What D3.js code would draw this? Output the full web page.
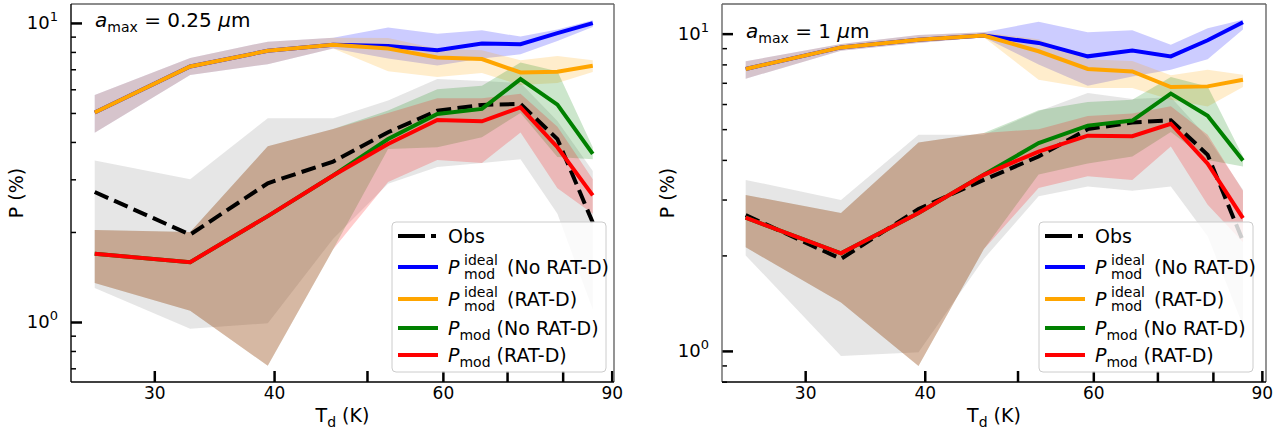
<!DOCTYPE html>
<html>
<head>
<meta charset="utf-8">
<script src="https://cdn.jsdelivr.net/npm/d3@7"></script>
<style>
  body { margin: 0; background: #fff; }
  svg text { font-family: "DejaVu Sans", sans-serif; fill: #000; }
</style>
</head>
<body>
<div id="chart"></div>
<script>
// dust temperature of each bin (K), shared by both panels
var tdust = [26.0, 32.7, 39.4, 46.1, 52.6, 59.2, 65.9, 72.3, 79.0, 86.0];

// ---- left panel, a_max = 0.25 um ----
var obsL      = [2.72, 1.96, 2.91, 3.44, 4.31, 5.09, 5.32, 5.36, 4.09, 2.15];
var obsLoL    = [1.30, 0.95, 0.99, 1.90, 2.90, 3.30, 3.40, 3.50, 2.30, 1.10];
var obsHiL    = [3.47, 3.00, 4.80, 4.80, 5.50, 6.50, 6.40, 6.30, 4.70, 3.20];
var idealNoL   = [5.02, 7.15, 8.07, 8.45, 8.38, 8.11, 8.53, 8.49, 9.24, 9.98];
var idealNoLoL = [4.29, 6.70, 7.28, 8.21, 7.60, 7.20, 7.60, 7.86, 8.71, 9.70];
var idealNoHiL = [5.74, 7.63, 8.66, 8.93, 9.65, 9.21, 9.45, 9.00, 9.50, 10.2];
var idealRL    = [5.02, 7.15, 8.07, 8.45, 8.21, 7.66, 7.57, 6.83, 6.87, 7.19];
var idealRLoL  = [4.29, 6.70, 7.28, 8.21, 6.90, 6.60, 6.80, 6.20, 6.30, 6.85];
var idealRHiL  = [5.74, 7.63, 8.66, 8.93, 8.90, 8.20, 8.10, 7.50, 7.76, 7.50];
var modNoL    = [1.69, 1.585, 2.26, 3.09, 4.09, 4.96, 5.16, 6.49, 5.33, 3.65];
var modNoLoL  = [1.35, 1.09, 0.714, 1.75, 3.79, 3.84, 4.15, 5.00, 3.56, 3.50];
var modNoHiL  = [2.03, 2.00, 3.87, 4.42, 5.10, 6.00, 6.17, 7.38, 6.90, 3.84];
var modRL     = [1.69, 1.585, 2.26, 3.09, 3.94, 4.74, 4.69, 5.22, 3.84, 2.65];
var modRLoL   = [1.35, 1.09, 0.714, 1.75, 2.94, 3.48, 3.40, 4.30, 2.80, 2.30];
var modRHiL   = [2.03, 2.00, 3.87, 4.42, 5.00, 5.60, 5.60, 5.80, 4.50, 3.00];

// ---- right panel, a_max = 1 um ----
var obsR      = [2.68, 1.95, 2.80, 3.46, 4.10, 5.00, 5.25, 5.33, 4.15, 2.22];
var obsLoR    = [2.00, 0.964, 0.99, 1.95, 3.07, 3.30, 3.20, 3.30, 2.30, 1.20];
var obsHiR    = [3.46, 2.99, 4.80, 4.80, 5.69, 6.50, 6.22, 6.30, 4.70, 3.22];
var idealNoR   = [7.74, 9.05, 9.57, 9.86, 9.35, 8.48, 8.84, 8.48, 9.53, 10.86];
var idealNoLoR = [7.21, 8.84, 9.35, 9.75, 8.00, 6.85, 7.33, 7.70, 8.30, 10.30];
var idealNoHiR = [8.18, 9.28, 9.90, 10.1, 10.9, 10.1, 10.24, 9.23, 10.4, 11.07];
var idealRR    = [7.74, 9.05, 9.57, 9.86, 8.80, 7.74, 7.60, 6.79, 6.82, 7.16];
var idealRLoR  = [7.21, 8.84, 9.35, 9.75, 7.16, 6.74, 6.74, 6.19, 5.89, 6.79];
var idealRHiR  = [8.18, 9.28, 9.90, 10.1, 9.60, 8.30, 8.20, 7.40, 7.70, 7.42];
var modNoR    = [2.63, 2.03, 2.72, 3.59, 4.52, 5.13, 5.32, 6.47, 5.51, 3.98];
var modNoLoR  = [2.12, 1.42, 0.897, 2.09, 3.60, 3.90, 4.10, 4.90, 4.00, 3.81];
var modNoHiR  = [3.10, 2.72, 4.54, 4.86, 5.73, 6.09, 6.19, 7.30, 6.82, 4.10];
var modRR     = [2.63, 2.03, 2.72, 3.59, 4.25, 4.77, 4.75, 5.20, 3.89, 2.62];
var modRLoR   = [2.12, 1.42, 0.897, 2.09, 3.26, 3.55, 3.46, 4.41, 2.89, 2.20];
var modRHiR   = [3.10, 2.72, 4.54, 4.86, 5.00, 5.50, 5.60, 5.90, 4.80, 3.20];

var xTicks = [30, 40, 50, 60, 70, 80, 90];
var xLabelled = [30, 40, 60, 90];
var legendNames = ["Obs", "(No RAT-D)", "(RAT-D)", "(No RAT-D)", "(RAT-D)"];

var svg = d3.select("#chart").append("svg")
    .attr("width", 1283)
    .attr("height", 432);

function drawPanel(p) {
    var x = d3.scaleLog().domain(p.xdom).range([p.left, p.right]);
    var y = d3.scaleLog().domain(p.ydom).range([p.bottom, p.top]);
    var g = svg.append("g");

    g.append("clipPath").attr("id", p.id + "clip")
        .append("rect")
        .attr("x", p.left).attr("y", p.top)
        .attr("width", p.right - p.left).attr("height", p.bottom - p.top);

    var plot = g.append("g").attr("clip-path", "url(#" + p.id + "clip)");

    // shaded ranges
    var area = function (lo, hi) {
        return d3.area()
            .x(function (d, i) { return x(tdust[i]); })
            .y0(function (d, i) { return y(lo[i]); })
            .y1(function (d, i) { return y(hi[i]); })(tdust);
    };
    p.series.forEach(function (s) {
        plot.append("path")
            .attr("d", area(s.lo, s.hi))
            .attr("fill", s.color)
            .attr("fill-opacity", 0.2)
            .attr("stroke", "none");
    });

    // lines
    var line = d3.line()
        .x(function (d, i) { return x(tdust[i]); })
        .y(function (d) { return y(d); });
    p.series.forEach(function (s) {
        plot.append("path")
            .datum(s.vals)
            .attr("d", line)
            .attr("fill", "none")
            .attr("stroke", s.line)
            .attr("stroke-width", 4)
            .attr("stroke-linejoin", "miter")
            .attr("stroke-dasharray", s.dash ? "14.8,6.4" : null);
    });

    // axes, ticks pointing inward
    var xAxis = g.append("g")
        .attr("transform", "translate(0," + p.bottom + ")")
        .call(d3.axisBottom(x).tickValues(xTicks).tickSize(-11).tickPadding(5)
            .tickFormat(function (d) { return xLabelled.indexOf(d) >= 0 ? d : ""; }));
    xAxis.select(".domain").remove();
    xAxis.selectAll(".tick line").attr("stroke", "#000").attr("stroke-width", 2.5);
    xAxis.selectAll(".tick text").style("font-size", "17px");

    var minors = [];
    [0.1, 1].forEach(function (dec) {
        for (var k = 2; k <= 9; k++) {
            var v = k * dec;
            if (v > p.ydom[0] && v < p.ydom[1]) minors.push(v);
        }
    });
    var yMinor = g.append("g")
        .attr("transform", "translate(" + p.left + ",0)")
        .call(d3.axisLeft(y).tickValues(minors).tickSize(-5).tickFormat(""));
    yMinor.select(".domain").remove();
    yMinor.selectAll(".tick line").attr("stroke", "#000").attr("stroke-width", 1.5);

    var yMajor = g.append("g")
        .attr("transform", "translate(" + p.left + ",0)")
        .call(d3.axisLeft(y).tickValues([1, 10]).tickSize(-11).tickFormat(""));
    yMajor.select(".domain").remove();
    yMajor.selectAll(".tick line").attr("stroke", "#000").attr("stroke-width", 2.5);

    [1, 10].forEach(function (v) {
        var t = g.append("text")
            .attr("x", p.left - 13)
            .attr("y", y(v) + 6)
            .attr("text-anchor", "end")
            .style("font-size", "18px");
        t.append("tspan").text("10");
        t.append("tspan").attr("dy", -8).style("font-size", "13px").text(v == 1 ? "0" : "1");
    });

    // spines
    g.append("line").attr("x1", p.left).attr("x2", p.right).attr("y1", p.top).attr("y2", p.top)
        .attr("stroke", "#666").attr("stroke-width", 1.4);
    g.append("line").attr("x1", p.right).attr("x2", p.right).attr("y1", p.top).attr("y2", p.bottom)
        .attr("stroke", "#666").attr("stroke-width", 1.4);
    g.append("line").attr("x1", p.left).attr("x2", p.left).attr("y1", p.top).attr("y2", p.bottom)
        .attr("stroke", p.leftSpine).attr("stroke-width", 1.4);
    g.append("line").attr("x1", p.left).attr("x2", p.right).attr("y1", p.bottom).attr("y2", p.bottom)
        .attr("stroke", "#000").attr("stroke-width", 1.4);

    // axis labels
    var xl = g.append("text")
        .attr("x", (p.left + p.right) / 2)
        .attr("y", 422)
        .attr("text-anchor", "middle")
        .style("font-size", "19px");
    xl.append("tspan").text("T");
    xl.append("tspan").attr("dy", 5).style("font-size", "14px").text("d");
    xl.append("tspan").attr("dy", -5).text(" (K)");

    g.append("text")
        .attr("transform", "translate(" + (p.left - 48) + "," + ((p.top + p.bottom) / 2) + ") rotate(-90)")
        .attr("text-anchor", "middle")
        .style("font-size", "19px")
        .text("P (%)");

    // a_max annotation
    var an = g.append("text")
        .attr("x", p.left + 24)
        .attr("y", p.annY)
        .style("font-size", "20px");
    an.append("tspan").style("font-style", "italic").text("a");
    an.append("tspan").attr("dy", 5).style("font-size", "14px").text("max");
    an.append("tspan").attr("dy", -5).text(" = " + p.amax + " ");
    an.append("tspan").style("font-style", "italic").text("\u03bc");
    an.append("tspan").text("m");

    // legend
    var lg = g.append("g");
    lg.append("rect")
        .attr("x", p.legX).attr("y", 222)
        .attr("width", 214).attr("height", 150)
        .attr("rx", 4)
        .attr("fill", "#fff").attr("fill-opacity", 0.8)
        .attr("stroke", "#ccc").attr("stroke-width", 1);
    var rows = [236, 267, 299, 328, 355];
    p.series.forEach(function (s, i) {
        lg.append("line")
            .attr("x1", p.legX + 6).attr("x2", p.legX + 46)
            .attr("y1", rows[i]).attr("y2", rows[i])
            .attr("stroke", s.line).attr("stroke-width", 4)
            .attr("stroke-dasharray", s.dash ? "27,6,5,100" : null);
        var t = lg.append("text")
            .attr("x", p.legX + 56)
            .attr("y", rows[i] + 7)
            .style("font-size", "19px");
        if (i == 0) {
            t.text(legendNames[i]);
        } else {
            t.append("tspan").style("font-style", "italic").text("P");
            if (i <= 2) {
                var px = p.legX + 72;
                lg.append("text").attr("x", px).attr("y", rows[i] - 2)
                    .style("font-size", "14px").text("ideal");
                lg.append("text").attr("x", px).attr("y", rows[i] + 12)
                    .style("font-size", "14px").text("mod");
                t.append("tspan").attr("x", p.legX + 115).text(legendNames[i]);
            } else {
                t.append("tspan").attr("dy", 5).style("font-size", "14px").text("mod");
                t.append("tspan").attr("dy", -5).text(" " + legendNames[i]);
            }
        }
    });
}

function series(obs, obsLo, obsHi, inN, inNLo, inNHi, iR, iRLo, iRHi, mN, mNLo, mNHi, mR, mRLo, mRHi) {
    return [
        { vals: obs, lo: obsLo, hi: obsHi, color: "gray", line: "#000", dash: true },
        { vals: inN, lo: inNLo, hi: inNHi, color: "blue", line: "blue" },
        { vals: iR, lo: iRLo, hi: iRHi, color: "orange", line: "orange" },
        { vals: mN, lo: mNLo, hi: mNHi, color: "green", line: "green" },
        { vals: mR, lo: mRLo, hi: mRHi, color: "red", line: "red" }
    ];
}

drawPanel({
    id: "left", left: 71, right: 614, top: 4, bottom: 382,
    xdom: [24.56, 90.5], ydom: [0.63, 11.57],
    leftSpine: "#000", annY: 27, amax: "0.25", legX: 392,
    series: series(obsL, obsLoL, obsHiL, idealNoL, idealNoLoL, idealNoHiL,
        idealRL, idealRLoL, idealRHiL, modNoL, modNoLoL, modNoHiL, modRL, modRLoL, modRHiL)
});

drawPanel({
    id: "right", left: 722, right: 1266, top: 4, bottom: 382,
    xdom: [24.56, 90.9], ydom: [0.798, 12.4],
    leftSpine: "#666", annY: 38, amax: "1", legX: 1039,
    series: series(obsR, obsLoR, obsHiR, idealNoR, idealNoLoR, idealNoHiR,
        idealRR, idealRLoR, idealRHiR, modNoR, modNoLoR, modNoHiR, modRR, modRLoR, modRHiR)
});
</script>
</body>
</html>
